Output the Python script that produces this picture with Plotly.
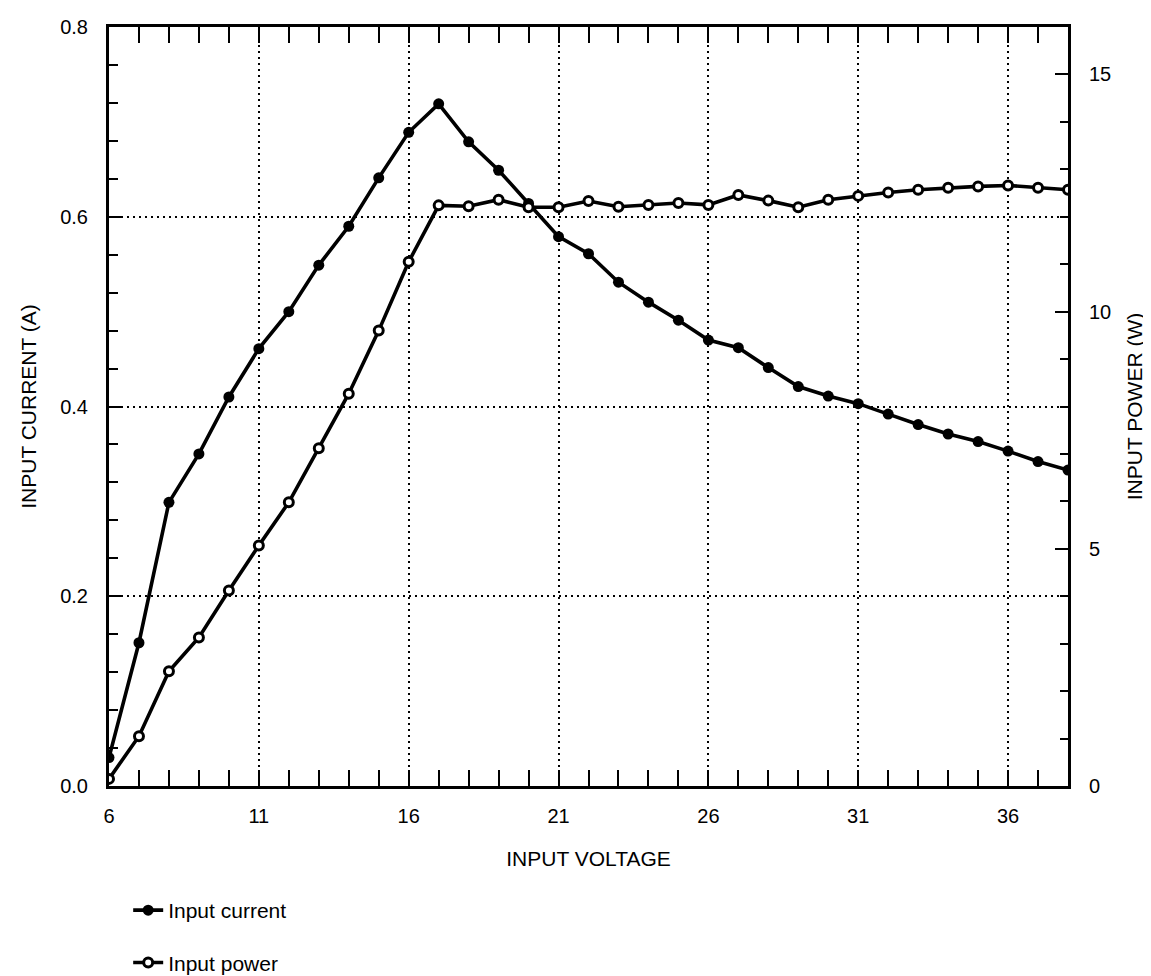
import plotly.graph_objects as go

voltage = list(range(6, 39))
input_current = [0.030, 0.151, 0.299, 0.350, 0.410, 0.461, 0.500, 0.549, 0.590, 0.641,
                 0.689, 0.719, 0.679, 0.649, 0.614, 0.579, 0.561, 0.531, 0.510, 0.491,
                 0.470, 0.462, 0.441, 0.421, 0.411, 0.403, 0.392, 0.381, 0.371, 0.363,
                 0.353, 0.342, 0.333]
input_power = [0.15, 1.05, 2.42, 3.13, 4.12, 5.07, 5.98, 7.12, 8.27, 9.60,
               11.05, 12.24, 12.22, 12.36, 12.20, 12.20, 12.33, 12.21, 12.25, 12.29,
               12.25, 12.46, 12.34, 12.20, 12.36, 12.44, 12.51, 12.57, 12.61, 12.64,
               12.66, 12.61, 12.57]

FONT = "Liberation Sans, Arial, Helvetica, sans-serif"
GRIDDASH = "2px,4px"

fig = go.Figure()
fig.add_trace(go.Scatter(
    x=voltage, y=input_current, name="Input current", mode="lines+markers",
    line=dict(color="black", width=3.6),
    marker=dict(symbol="circle", size=11, color="black"),
    legendgroup="a", yaxis="y"))
fig.add_trace(go.Scatter(
    x=voltage, y=input_power, name="Input power", mode="lines+markers",
    line=dict(color="black", width=3.6),
    marker=dict(symbol="circle", size=9, color="white", line=dict(color="black", width=3)),
    legendgroup="b", yaxis="y2"))

fig.update_layout(
    width=1151, height=976,
    margin=dict(l=101, r=91, t=19, b=198, autoexpand=False),
    paper_bgcolor="white", plot_bgcolor="white",
    font=dict(family=FONT, color="black", size=20),
    showlegend=True,
    legend=dict(x=0.02, xanchor="left", y=-0.137, yanchor="top",
                traceorder="grouped", tracegroupgap=22,
                font=dict(size=21, family=FONT), bgcolor="rgba(0,0,0,0)"),
    xaxis=dict(
        range=[6, 38], tick0=6, dtick=5, ticks="inside", ticklen=16, tickwidth=1.8,
        tickcolor="black", showline=True, linecolor="black", linewidth=2.8,
        mirror="allticks", showgrid=True, gridcolor="black", griddash=GRIDDASH, gridwidth=1.6,
        zeroline=False, tickfont=dict(size=20), ticklabelstandoff=10, automargin=False,
        minor=dict(dtick=1, ticks="inside", ticklen=8, tickwidth=1.8, tickcolor="black", showgrid=False),
        title=dict(text="INPUT VOLTAGE", font=dict(size=21), standoff=26)),
    yaxis=dict(
        range=[0, 0.8], tick0=0, dtick=0.2, tickformat=".1f", ticks="inside", ticklen=14,
        tickwidth=1.8, tickcolor="black", showline=True, linecolor="black", linewidth=3,
        mirror=True, showgrid=True, gridcolor="black", griddash=GRIDDASH, gridwidth=1.6,
        zeroline=False, tickfont=dict(size=20), ticklabelstandoff=14, automargin=False,
        minor=dict(dtick=0.04, ticks="inside", ticklen=9, tickwidth=1.8, tickcolor="black", showgrid=False),
        title=dict(text="INPUT CURRENT (A)", font=dict(size=21), standoff=18)),
    yaxis2=dict(
        range=[0, 16], tick0=0, dtick=5, overlaying="y", side="right", ticks="inside",
        ticklen=13, tickwidth=1.8, tickcolor="black", showline=True, linecolor="black",
        linewidth=2.8, showgrid=False, zeroline=False, tickfont=dict(size=20),
        ticklabelstandoff=14, automargin=False,
        minor=dict(dtick=1, ticks="inside", ticklen=8, tickwidth=1.8, tickcolor="black", showgrid=False),
        title=dict(text="INPUT POWER (W)", font=dict(size=21), standoff=18)),
)

fig.write_html("out.html")
